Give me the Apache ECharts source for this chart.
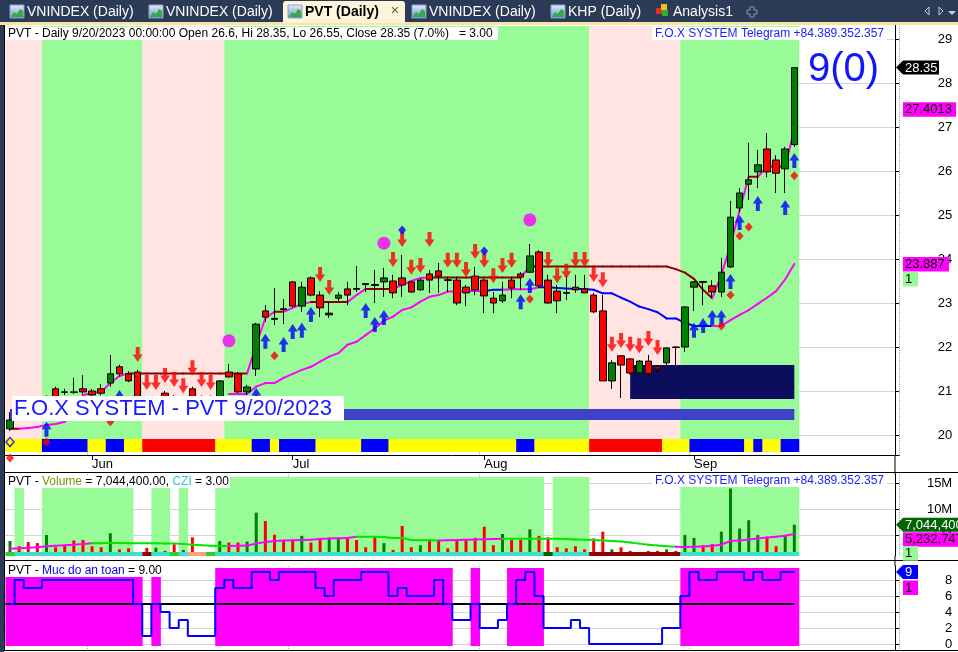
<!DOCTYPE html>
<html>
<head>
<meta charset="utf-8">
<title>PVT (Daily)</title>
<script src="https://cdn.jsdelivr.net/npm/echarts@6.0.0/dist/echarts.min.js"></script>
<style>
html,body{margin:0;padding:0;background:#fff;overflow:hidden}
#chart{width:958px;height:652px}
</style>
</head>
<body>
<div id="chart"></div>
<script>
// ---------------- DATA ----------------
const dates = [
 '5/19/2023','5/22/2023','5/23/2023','5/24/2023','5/25/2023','5/26/2023','5/29/2023','5/30/2023','5/31/2023',
 '6/1/2023','6/2/2023','6/5/2023','6/6/2023','6/7/2023','6/8/2023','6/9/2023','6/12/2023','6/13/2023','6/14/2023','6/15/2023',
 '6/16/2023','6/19/2023','6/20/2023','6/21/2023','6/22/2023','6/23/2023','6/26/2023','6/27/2023','6/28/2023','6/29/2023','6/30/2023',
 '7/3/2023','7/4/2023','7/5/2023','7/6/2023','7/7/2023','7/10/2023','7/11/2023','7/12/2023','7/13/2023','7/14/2023',
 '7/17/2023','7/18/2023','7/19/2023','7/20/2023','7/21/2023','7/24/2023','7/25/2023','7/26/2023','7/27/2023','7/28/2023','7/31/2023',
 '8/1/2023','8/2/2023','8/3/2023','8/4/2023','8/7/2023','8/8/2023','8/9/2023','8/10/2023','8/11/2023','8/14/2023',
 '8/15/2023','8/16/2023','8/17/2023','8/18/2023','8/21/2023','8/22/2023','8/23/2023','8/24/2023','8/25/2023','8/28/2023',
 '8/29/2023','8/30/2023','8/31/2023',
 '9/5/2023','9/6/2023','9/7/2023','9/8/2023','9/11/2023','9/12/2023','9/13/2023','9/14/2023','9/15/2023','9/18/2023','9/19/2023','9/20/2023'
];
const open = [
 20.14,20.60,20.50,20.55,20.50,21.05,20.98,20.98,21.05,21.00,
 21.05,21.18,21.55,21.39,21.43,20.75,20.60,20.95,20.80,20.62,
 21.05,20.80,20.85,20.80,21.43,21.39,20.98,21.50,22.82,22.65,
 22.87,23.48,22.93,23.57,23.18,22.73,23.11,23.32,23.33,23.44,
 23.42,23.48,23.50,23.57,23.48,23.30,23.66,23.73,23.53,23.52,
 23.36,23.61,23.52,23.11,23.05,23.52,23.66,23.70,24.16,23.52,
 23.27,23.24,23.36,23.32,23.18,22.82,21.23,21.80,21.73,21.41,
 21.68,21.55,21.64,22.00,22.00,23.36,23.49,23.39,23.25,23.82,
 25.16,25.70,25.98,26.50,26.25,26.05,26.60];
const high = [
 20.52,20.75,20.65,20.70,20.90,21.10,21.05,21.30,21.36,21.05,
 21.16,21.82,21.60,21.45,21.48,20.85,20.85,21.00,20.90,20.85,
 21.10,20.90,20.90,21.25,21.61,21.43,21.14,22.55,22.95,23.34,
 23.09,23.50,23.48,23.60,23.27,23.02,23.25,23.48,23.84,23.45,
 23.75,23.80,23.64,24.09,23.50,23.55,23.75,23.91,23.59,23.59,
 23.41,23.82,23.55,23.25,23.48,23.59,23.70,24.34,24.20,23.64,
 23.41,23.64,23.64,23.64,23.23,23.18,21.70,21.80,21.75,21.70,
 21.82,21.59,22.00,22.02,22.93,23.50,23.50,23.52,24.02,25.32,
 25.61,26.64,26.48,26.86,26.36,26.55,28.35];
const low = [
 20.09,20.35,20.40,20.45,20.45,20.80,20.91,20.93,20.93,20.86,
 20.90,21.10,21.33,21.20,20.60,20.55,20.55,20.65,20.60,20.55,
 20.75,20.70,20.60,20.70,21.30,20.95,20.91,21.34,22.57,22.50,
 22.52,22.90,22.80,23.15,22.68,22.66,23.05,22.95,23.25,23.25,
 23.00,23.14,23.11,23.14,23.23,23.28,23.23,23.23,23.25,22.95,
 22.93,23.18,22.77,22.77,23.00,23.11,23.30,23.68,23.35,22.98,
 22.77,23.07,23.23,23.23,22.77,21.23,21.05,20.84,21.38,21.38,
 21.32,21.41,21.55,21.59,21.89,22.82,22.95,23.11,23.14,23.80,
 25.07,25.34,25.61,25.86,25.50,25.50,26.55];
const close = [
 20.34,20.40,20.45,20.50,20.85,20.86,20.97,20.97,20.98,20.91,
 20.95,21.39,21.39,21.23,20.68,20.60,20.75,20.70,20.65,20.72,
 20.86,20.78,20.70,21.23,21.32,20.98,21.09,22.52,22.68,22.63,
 22.85,22.93,23.36,23.18,22.89,22.77,23.18,23.18,23.31,23.42,
 23.40,23.57,23.23,23.41,23.25,23.52,23.52,23.61,23.51,23.00,
 23.23,23.30,23.16,23.00,23.18,23.34,23.59,24.07,23.39,23.00,
 23.05,23.22,23.30,23.23,22.80,21.23,21.64,21.59,21.41,21.68,
 21.39,21.50,21.98,21.99,22.91,23.48,23.47,23.25,23.70,24.95,
 25.50,25.80,26.14,25.98,25.95,26.50,28.35];

// upper trailing line (magenta when rising, maroon otherwise)
const stopUp = [
 20.14,20.14,20.16,20.18,20.23,20.25,20.30,20.57,20.91,20.95,
 20.98,21.18,21.34,21.40,21.40,21.40,21.40,21.40,21.40,21.40,
 21.40,21.40,21.40,21.40,21.40,21.40,21.40,22.05,22.66,22.80,
 22.80,22.89,22.98,23.02,23.02,23.02,23.02,23.02,23.18,23.32,
 23.32,23.32,23.32,23.41,23.50,23.57,23.58,23.58,23.58,23.58,
 23.58,23.58,23.58,23.58,23.58,23.58,23.58,23.83,23.83,23.83,
 23.83,23.83,23.83,23.83,23.83,23.83,23.83,23.83,23.83,23.83,
 23.83,23.83,23.83,23.77,23.69,23.55,23.30,23.11,23.64,24.32,
 25.11,25.87,25.87,26.10,26.10,26.10,26.95];
// lower trailing line
const stopLow = [
 null,null,null,null,null,null,null,null,null,null,
 null,null,null,null,null,null,null,null,null,null,
 null,null,null,null,20.93,20.93,20.93,21.10,21.18,21.18,
 21.30,21.39,21.48,21.55,21.67,21.78,21.86,22.05,22.12,22.27,
 22.42,22.60,22.69,22.84,22.90,23.03,23.14,23.18,23.26,23.26,
 23.27,23.27,23.27,23.30,23.30,23.31,23.31,23.31,23.36,23.36,
 23.34,23.33,23.32,23.32,23.30,23.22,23.22,23.12,23.03,22.92,
 22.86,22.79,22.65,22.65,22.55,22.48,22.48,22.48,22.48,22.61,
 22.73,22.84,22.98,23.12,23.27,23.54,23.887];
const stopLowColorSegs = [[0,52,'M'],[53,54,'B'],[55,58,'M'],[59,77,'B'],[78,86,'M']];
const upperBandLast = 27.4013;

// background trend zones and bottom strip
const trendSegs = [[0,3,-1],[4,14,1],[15,23,-1],[24,63,1],[64,73,-1],[74,86,1]];
const stripSegs = [[0,3,'Y'],[4,8,'B'],[9,10,'Y'],[11,12,'B'],[13,14,'Y'],[15,22,'R'],[23,26,'Y'],[27,28,'B'],
 [29,29,'Y'],[30,33,'B'],[34,38,'Y'],[39,41,'B'],[42,55,'Y'],[56,57,'B'],[58,63,'Y'],[64,71,'R'],[72,74,'Y'],
 [75,80,'B'],[81,81,'Y'],[82,82,'B'],[83,84,'Y'],[85,86,'B']];
const zoneBox = [[68, 86, 21.59, 20.82]];      // navy box [fromBar, toBar, top, bottom]
const foxBar  = [[0, 86, 20.59, 20.34]];       // slate band under the caption

// signal markers [bar, price]
const sellArrows = [[14,21.66],[15,21.02],[16,21.02],[17,21.18],[18,21.09],[19,20.95],[20,21.36],[21,21.09],[22,21.02],
 [34,23.48],[35,23.18],[42,23.82],[43,24.27],[44,23.64],[45,23.68],[46,24.27],[48,23.80],[49,23.80],[50,23.59],
 [51,24.00],[52,23.80],[53,23.45],[54,23.68],[55,23.80],[59,23.82],[60,23.45],[61,23.55],[62,23.82],[63,23.82],
 [64,23.48],[65,23.36],[66,21.89],[67,21.98],[68,21.89],[69,21.86],[70,22.02],[71,21.82]];
const buyArrows = [[4,20.30],[12,21.02],[27,21.07],[28,22.30],[30,22.23],[31,22.52],[32,22.55],[33,22.91],
 [39,23.00],[40,22.68],[41,22.84],[56,23.20],[57,23.57],[75,22.55],[76,22.66],[77,22.84],[78,22.84],[79,23.66],
 [80,25.00],[82,25.43],[85,25.34],[86,26.41]];
const redDiamonds = [[11,20.30],[29,21.80],[57,23.09],[78,22.48],[79,23.18],[80,24.52],[81,24.73],[86,25.89]];
const blueDiamonds = [[43,24.66],[52,24.18]];
const pinkDots = [[24,22.14],[41,24.36],[57,24.89]];
const stripMarks = [[0,19.84,'hollow'],[4,19.84,'red'],[0,19.48,'red']];

// volume pane (millions)
const volumeM = [
 3.90,2.90,3.70,3.50,5.05,2.70,3.10,4.00,4.10,2.90,
 2.70,5.40,2.30,2.50,1.40,2.60,2.60,2.00,3.30,2.20,
 4.60,1.20,1.65,3.90,3.60,3.60,3.80,9.35,7.75,5.10,
 4.10,4.10,4.90,3.60,4.50,4.50,4.50,4.40,4.10,2.70,
 4.70,3.50,2.20,6.80,2.70,3.10,3.90,3.90,2.50,4.10,
 4.10,4.50,6.65,3.10,5.25,4.10,4.20,6.15,4.90,4.60,
 2.70,2.50,2.90,2.30,4.40,5.70,2.30,2.70,2.00,1.80,
 2.00,2.00,2.30,2.00,5.05,4.50,3.10,3.30,5.70,14.00,
 6.30,7.90,5.05,4.60,2.90,5.05,7.0444];
const volMaM = [
 2.40,2.50,2.60,2.70,2.90,3.00,3.10,3.20,3.35,3.45,
 3.45,3.50,3.50,3.45,3.45,3.45,3.45,3.40,3.40,3.35,
 3.20,3.10,3.00,2.95,2.95,3.00,3.05,3.40,3.70,3.90,
 4.00,4.05,4.10,4.15,4.30,4.40,4.45,4.50,4.70,4.70,
 4.70,4.65,4.50,4.50,4.10,4.05,4.05,4.00,4.05,4.10,
 4.15,4.20,4.25,4.30,4.35,4.35,4.35,4.35,4.35,4.35,
 4.35,4.30,4.20,4.15,4.10,4.00,3.90,3.80,3.60,3.40,
 3.20,3.05,2.90,2.80,2.75,2.80,2.85,3.00,3.20,3.90,
 4.00,4.20,4.40,4.60,4.70,4.90,5.232747];
const volMaColorSegs = [[0,9,'M'],[10,24,'G'],[25,38,'M'],[39,47,'G'],[48,54,'M'],[55,73,'G'],[74,86,'M']];
const volBandSegs = [[1,1],[4,13],[16,17],[19,19],[23,58],[60,63],[74,86]];
const cziSegs = [[0,0,'G'],[1,14,'C'],[15,15,'DR'],[16,17,'C'],[18,18,'G'],[19,19,'C'],[20,21,'O'],[22,22,'G'],
 [23,58,'C'],[59,59,'DG'],[60,63,'C'],[64,73,'DR'],[74,86,'C']];
const cziValue = 3.00;

// safety level pane ("Muc do an toan")
const safety = [
 5,8,7,7,8,8,8,8,8,8,
 8,8,8,8,5,1,5,4,2,3,
 1,1,1,7,8,7,7,9,9,8,
 9,9,9,9,7,6,8,8,8,9,
 9,9,6,7,6,6,6,8,5,3,
 3,5,2,2,3,5,8,9,6,2,
 2,2,3,2,0,0,0,0,0,0,
 0,0,2,2,6,9,8,8,9,9,
 9,8,9,8,8,9,9];
const safeThreshold = 5;
const signalCount = '9(0)';

// ---------------- STYLE ----------------
const FONT = '"Liberation Sans", Arial, Helvetica, sans-serif';
const COL = {
  up:'#008000', down:'#ff0000', bgGreen:'#98fb98', bgPink:'#ffe4e1',
  Y:'#ffff00', B:'#0000ff', R:'#ff0000', magenta:'#ff00ff', maroon:'#8b0000', blue:'#0000ff',
  navy:'#0d0d5e', slate:'#4040c8', fox:'#1a1aff', grid:'#a8a8a8',
  czi:{C:'#40e0d0', G:'#33cc33', DR:'#8b0000', O:'#ffa07a', DG:'#006400'}, volMa:{M:'#ff00ff', G:'#00e600'}
};
const N = dates.length;
const PAD = 11;
const cats = dates.concat(Array.from({length: PAD}, (_, k) => 'pad' + k));
const monthNames = ['Jan','Feb','Mar','Apr','May','Jun','Jul','Aug','Sep','Oct','Nov','Dec'];
const monthOf = d => +d.split('/')[0];
const monthStart = new Set();
dates.forEach((d, i) => { if (i > 0 && monthOf(d) !== monthOf(dates[i - 1])) monthStart.add(i); });
const isMonthStart = i => monthStart.has(i);

// runs of bars whose safety level is at or above the threshold (drawn as magenta zones)
const safeRuns = [];
safety.forEach((v, i) => {
  if (v >= safeThreshold) {
    const lastRun = safeRuns[safeRuns.length - 1];
    if (lastRun && lastRun[1] === i - 1) lastRun[1] = i; else safeRuns.push([i, i]);
  }
});

const GRID_LEFT = 5.44, GRID_W = 893.76;
const grids = [
  {left: GRID_LEFT, top: 24, width: GRID_W, height: 431, outerBoundsMode: 'none'},
  {left: GRID_LEFT, top: 474, width: GRID_W, height: 82, outerBoundsMode: 'none'},
  {left: GRID_LEFT, top: 566, width: GRID_W, height: 84, outerBoundsMode: 'none'}
];

function xAxisFor(gi) {
  return {
    type: 'category', gridIndex: gi, data: cats, boundaryGap: true,
    axisLine: {show: gi === 0, lineStyle: {color: '#000', width: 1}},
    axisTick: {show: gi === 0, alignWithLabel: true, interval: isMonthStart, length: 5, lineStyle: {color: '#000'}},
    axisLabel: {show: gi === 0, interval: isMonthStart, align: 'left', margin: 3, fontSize: 13, color: '#000', fontFamily: FONT,
      formatter: (v, i) => isMonthStart(i) ? monthNames[monthOf(v) - 1] : ''},
    splitLine: {show: true, interval: isMonthStart, lineStyle: {type: 'dotted', color: COL.grid}}
  };
}
function yAxisFor(gi, min, max, split, fmt) {
  return {
    type: 'value', gridIndex: gi, position: 'right', offset: -4, min, max, splitNumber: split, scale: true,
    axisLine: {show: true, lineStyle: {color: '#000', width: 1}},
    axisTick: {show: true, inside: false, length: 4, lineStyle: {color: '#000'}},
    axisLabel: {show: true, align: 'right', margin: 57, fontSize: 13, color: '#000', fontFamily: FONT,
      showMinLabel: false, showMaxLabel: false, formatter: fmt},
    splitLine: {show: true, showMinLine: false, showMaxLine: false, lineStyle: {type: 'dotted', color: COL.grid}}
  };
}

// ---- render helpers ----
function segRectSeries(name, gi, segs, colorOf, yTop, yBot, z) {
  return {
    type: 'custom', name, xAxisIndex: gi, yAxisIndex: gi, z, silent: true, animation: false,
    data: segs.map(s => [s[0], s[1]]),
    renderItem: (params, api) => {
      const seg = segs[params.dataIndex];
      const fill = colorOf(seg);
      if (!fill) return null;
      const cs = params.coordSys;
      const w = api.size([1, 0])[0];
      const x0 = api.coord([seg[0], 0])[0] - w / 2;
      const x1 = api.coord([seg[1], 0])[0] + w / 2;
      const y0 = cs.y + yTop(cs), y1 = cs.y + yBot(cs);
      return {type: 'rect', shape: {x: x0, y: y0, width: x1 - x0 + 0.4, height: y1 - y0}, style: {fill}};
    }
  };
}
function boxSeries(name, gi, boxes, fill, z) {
  return {
    type: 'custom', name, xAxisIndex: gi, yAxisIndex: gi, z, silent: true,
    data: boxes.map(b => b.slice()),
    renderItem: (params, api) => {
      const p0 = api.coord([api.value(0), api.value(2)]);
      const p1 = api.coord([api.value(1), api.value(3)]);
      return {type: 'rect', shape: {x: p0[0], y: p0[1], width: p1[0] - p0[0], height: p1[1] - p0[1]}, style: {fill}};
    }
  };
}
function colorLineSeries(name, gi, values, colorAt, z) {
  const segs = [];
  for (let i = 1; i < values.length; i++) {
    if (values[i] == null || values[i - 1] == null) continue;
    segs.push([i, values[i - 1], values[i]]);
  }
  return {
    type: 'custom', name, xAxisIndex: gi, yAxisIndex: gi, z, silent: true,
    data: segs,
    renderItem: (params, api) => {
      const s = segs[params.dataIndex];
      const a = api.coord([s[0] - 1, s[1]]);
      const b = api.coord([s[0], s[2]]);
      return {type: 'line', shape: {x1: a[0], y1: a[1], x2: b[0], y2: b[1]},
        style: {stroke: colorAt(s[0]), lineWidth: 2, lineCap: 'round'}};
    }
  };
}
function segLookup(segs, i) { for (const s of segs) if (i >= s[0] && i <= s[1]) return s[2]; return null; }

const DOWN_ARROW = 'path://M3,0L7,0L7,7L10,7L5,14L0,7L3,7Z';
const UP_ARROW = 'path://M5,0L10,7L7,7L7,14L3,14L3,7L0,7Z';

const series = [
  // ---------- price pane ----------
  segRectSeries('zones', 0, trendSegs, s => s[2] > 0 ? COL.bgGreen : COL.bgPink, cs => 2, cs => cs.height - 16, 1),
  segRectSeries('strip', 0, stripSegs, s => COL[s[2]], cs => cs.height - 16, cs => cs.height - 3, 2),
  boxSeries('foxBar', 0, foxBar, COL.slate, 2),
  boxSeries('zone', 0, zoneBox, COL.navy, 3),
  colorLineSeries('stopUp', 0, stopUp, i => stopUp[i] > stopUp[i - 1] ? COL.magenta : COL.maroon, 4),
  colorLineSeries('stopLow', 0, stopLow, i => segLookup(stopLowColorSegs, i) === 'B' ? COL.blue : COL.magenta, 4),
  {
    type: 'candlestick', name: 'PVT', xAxisIndex: 0, yAxisIndex: 0, z: 5, barWidth: 7,
    data: open.map((o, i) => [o, close[i], low[i], high[i]]),
    itemStyle: {color: COL.up, color0: COL.down, borderColor: '#000', borderColor0: '#000', borderWidth: 1}
  },
  {type: 'scatter', name: 'sell', xAxisIndex: 0, yAxisIndex: 0, z: 6, symbol: DOWN_ARROW, symbolSize: [10, 15],
    symbolOffset: [0, -7.5], itemStyle: {color: '#ff0000'}, data: sellArrows},
  {type: 'scatter', name: 'buy', xAxisIndex: 0, yAxisIndex: 0, z: 6, symbol: UP_ARROW, symbolSize: [10, 15],
    symbolOffset: [0, 7.5], itemStyle: {color: '#0000ff'}, data: buyArrows},
  {type: 'scatter', name: 'redDiamond', xAxisIndex: 0, yAxisIndex: 0, z: 6, symbol: 'diamond', symbolSize: [8, 9],
    itemStyle: {color: '#ff0000'}, data: redDiamonds},
  {type: 'scatter', name: 'blueDiamond', xAxisIndex: 0, yAxisIndex: 0, z: 6, symbol: 'diamond', symbolSize: [8, 9],
    itemStyle: {color: '#0000ff'}, data: blueDiamonds},
  {type: 'scatter', name: 'dots', xAxisIndex: 0, yAxisIndex: 0, z: 6, symbol: 'circle', symbolSize: 13,
    itemStyle: {color: '#ff00ff'}, data: pinkDots},
  {type: 'scatter', name: 'stripMarks', xAxisIndex: 0, yAxisIndex: 0, z: 7, clip: false, symbol: 'diamond', symbolSize: [8, 9],
    data: stripMarks.map(m => ({value: [m[0], m[1]], itemStyle: m[2] === 'hollow'
      ? {color: '#ffff00', borderColor: '#0000ff', borderWidth: 1.5} : {color: '#ff0000'}}))},

  // ---------- volume pane ----------
  segRectSeries('volZones', 1, volBandSegs, () => COL.bgGreen, cs => 3, cs => cs.height, 1),
  {
    type: 'bar', name: 'Volume', xAxisIndex: 1, yAxisIndex: 1, z: 3, barWidth: 3,
    data: volumeM.map((v, i) => ({value: v, itemStyle: {color: close[i] >= open[i] ? COL.up : COL.down}}))
  },
  colorLineSeries('volMA', 1, volMaM, i => COL.volMa[segLookup(volMaColorSegs, i)], 4),
  segRectSeries('czi', 1, cziSegs, s => COL.czi[s[2]], cs => cs.height - 4, cs => cs.height, 5),

  // ---------- safety pane ----------
  segRectSeries('safeZones', 2, safeRuns, () => COL.magenta, cs => 2, cs => cs.height - 4, 1),
  {
    type: 'custom', name: 'threshold', xAxisIndex: 2, yAxisIndex: 2, z: 2, silent: true,
    data: [[0, N - 1, safeThreshold]],
    renderItem: (params, api) => {
      const w = api.size([1, 0])[0];
      const a = api.coord([api.value(0), api.value(2)]);
      const b = api.coord([api.value(1), api.value(2)]);
      return {type: 'line', shape: {x1: a[0] - w / 2, y1: a[1], x2: b[0], y2: b[1]}, style: {stroke: '#000', lineWidth: 2}};
    }
  },
  {
    type: 'line', name: 'Muc do an toan', xAxisIndex: 2, yAxisIndex: 2, z: 3, step: 'middle', symbol: 'none',
    lineStyle: {color: COL.blue, width: 2}, data: safety
  }
];

const option = {
  animation: false,
  backgroundColor: '#ffffff',
  grid: grids,
  xAxis: [xAxisFor(0), xAxisFor(1), xAxisFor(2)],
  yAxis: [
    yAxisFor(0, 19.5455, 29.3409, 10, v => String(v)),
    yAxisFor(1, 1.019, 16.788, 3, v => v + 'M'),
    yAxisFor(2, -0.75, 9.75, 5, v => String(v))
  ],
  series
};

const chart = echarts.init(document.getElementById('chart'), null, {renderer: 'canvas', width: 958, height: 652});
chart.setOption(option);

// ---------------- GRAPHIC (frame, tabs, captions, value labels) ----------------
const yPx = (axis, v) => chart.convertToPixel({yAxisIndex: axis}, v);
const G = [];
const txt = (text, x, y, font, fill, align, extra) =>
  Object.assign({type: 'text', z: 120, silent: true, style: Object.assign({text, x, y, font, fill, align: align || 'left', verticalAlign: 'middle'}, extra || {})});
const rect = (x, y, w, h, fill, z, extra) => ({type: 'rect', z: z || 110, silent: true, shape: Object.assign({x, y, width: w, height: h}, extra || {}), style: {fill}});
const line = (x1, y1, x2, y2, stroke, w) => ({type: 'line', z: 115, silent: true, shape: {x1, y1, x2, y2}, style: {stroke, lineWidth: w || 1}});

// tab bar
G.push(rect(0, 0, 958, 22, '#2a3a57', 100));
G.push(rect(0, 22, 958, 3, '#f8e5a4', 101));
G.push(rect(0, 25, 4, 627, '#2a3a57', 101));
G.push(line(4.5, 25, 4.5, 651, '#000', 1));
const TAB_FONT = '14px ' + FONT;
const tabs = [
  {text: 'VNINDEX (Daily)', x: 8}, {text: 'VNINDEX (Daily)', x: 147}, {text: 'PVT (Daily)', x: 286, active: true},
  {text: 'VNINDEX (Daily)', x: 410}, {text: 'KHP (Daily)', x: 549}, {text: 'Analysis1', x: 653, kind: 'analysis'}
];
tabs.forEach(t => {
  if (t.active) G.push(rect(t.x - 3, 1, 122, 22, '#fdf5da', 102, {r: [3, 3, 0, 0]}));
  if (t.kind === 'analysis') {
    G.push(rect(t.x + 3, 8, 6, 6, '#e03030', 105));
    G.push(rect(t.x + 8, 4, 6, 6, '#f0c020', 105));
    G.push(rect(t.x + 9, 10, 6, 6, '#30b030', 105));
  } else {
    G.push({type: 'rect', z: 105, silent: true, shape: {x: t.x + 2, y: 5, width: 14, height: 13},
      style: {fill: new echarts.graphic.LinearGradient(0, 0, 0, 1, [{offset: 0, color: '#e6f0fb'}, {offset: 1, color: '#5d90d0'}]), stroke: '#8aa0c0', lineWidth: 1}});
    G.push({type: 'polygon', z: 106, silent: true, shape: {points: [[t.x + 3, 17], [t.x + 6, 12], [t.x + 9, 14], [t.x + 12, 9], [t.x + 15, 11], [t.x + 15, 17]]}, style: {fill: '#3aa845'}});
  }
  G.push(txt(t.text, t.x + (t.kind === 'analysis' ? 20 : 19), 12, (t.active ? 'bold ' : '') + TAB_FONT, t.active ? '#000' : '#ffffff'));
  if (t.active) G.push(txt('\u00d7', 395, 11, '15px ' + FONT, '#606060', 'center'));
});
G.push({type: 'polygon', z: 105, silent: true, shape: {points: [[750, 7], [754, 7], [754, 10], [757, 10], [757, 14], [754, 14], [754, 17], [750, 17], [750, 14], [747, 14], [747, 10], [750, 10]]}, style: {fill: 'none', stroke: '#8898b0', lineWidth: 1}});
G.push({type: 'polygon', z: 105, silent: true, shape: {points: [[925, 11], [929, 7], [929, 15]]}, style: {fill: 'none', stroke: '#c8d0dc', lineWidth: 1}});
G.push({type: 'polygon', z: 105, silent: true, shape: {points: [[943, 11], [939, 7], [939, 15]]}, style: {fill: 'none', stroke: '#c8d0dc', lineWidth: 1}});
G.push({type: 'polygon', z: 105, silent: true, shape: {points: [[948, 11], [956, 11], [952, 15]]}, style: {fill: '#c8d0dc'}});

// pane borders
G.push(line(4, 472.5, 958, 472.5, '#000', 1));
G.push(line(4, 560.5, 958, 560.5, '#000', 1));
G.push(line(4, 650.5, 958, 650.5, '#000', 1));
G.push(line(895, 455, 895, 474, '#000', 1));
G.push(line(895, 556, 895, 566, '#000', 1));

// captions
const CAP_FONT = '12px ' + FONT;
const last = N - 1;
const pct = ((close[last] / close[last - 1] - 1) * 100).toFixed(1);
G.push(rect(5, 27, 493, 13, '#ffffff', 110));
G.push(txt('PVT - Daily ' + dates[last] + ' 00:00:00 Open ' + open[last] + ', Hi ' + high[last] + ', Lo ' + low[last] +
  ', Close ' + close[last] + ' (' + pct + '%)   = ' + cziValue.toFixed(2), 8, 33.5, CAP_FONT, '#000'));
G.push(rect(652, 27, 235, 13, '#ffffff', 110));
G.push(txt('F.O.X SYSTEM Telegram +84.389.352.357', 884, 33.5, CAP_FONT, '#2020ff', 'right'));
G.push(txt(signalCount, 808, 70, '40px ' + FONT, '#1414ff'));
G.push(rect(12, 396, 332, 25, '#ffffff', 110));
G.push(txt('F.O.X SYSTEM - PVT ' + dates[last], 14, 409, '22px ' + FONT, COL.fox));

G.push(rect(5, 476, 225, 12, '#ffffff', 110));
G.push({type: 'text', z: 120, silent: true, style: {
  text: '{k|PVT - }{v|Volume}{k| = ' + (volumeM[last] * 1e6).toLocaleString('en-US', {minimumFractionDigits: 2}) + ', }{c|CZI}{k| = ' + cziValue.toFixed(2) + '}',
  x: 8, y: 482, verticalAlign: 'middle', font: CAP_FONT,
  rich: {k: {fill: '#000', font: CAP_FONT}, v: {fill: '#6b9a00', font: CAP_FONT}, c: {fill: '#33cccc', font: CAP_FONT}}}});
G.push(rect(652, 475, 235, 12, '#ffffff', 110));
G.push(txt('F.O.X SYSTEM Telegram +84.389.352.357', 884, 481, CAP_FONT, '#2020ff', 'right'));

G.push(rect(5, 564, 156, 13, '#ffffff', 110));
G.push({type: 'text', z: 120, silent: true, style: {
  text: '{k|PVT - }{v|Muc do an toan}{k| = ' + safety[last].toFixed(2) + '}',
  x: 8, y: 571, verticalAlign: 'middle', font: CAP_FONT,
  rich: {k: {fill: '#000', font: CAP_FONT}, v: {fill: '#0000ff', font: CAP_FONT}}}});

// right-hand value labels
const LBL_FONT = '13px ' + FONT;
function arrowLabel(text, yc, bg, fg, w) {
  G.push({type: 'polygon', z: 125, silent: true, shape: {points: [[896, yc], [903, yc - 7], [903 + w, yc - 7], [903 + w, yc + 7], [903, yc + 7]]}, style: {fill: bg}});
  G.push(Object.assign(txt(text, 905, yc + 0.5, LBL_FONT, fg), {z: 126}));
}
function boxLabel(text, yc, bg, fg, w) {
  G.push(Object.assign(rect(903, yc - 7, w, 14.5, bg), {z: 125}));
  G.push(Object.assign(txt(text, 905, yc + 0.5, LBL_FONT, fg), {z: 126}));
}
arrowLabel(close[last].toFixed(2), yPx(0, close[last]), '#000000', '#ffffff', 36);
boxLabel(upperBandLast.toFixed(4), yPx(0, upperBandLast), COL.magenta, '#000', 53);
const yLow = yPx(0, stopLow[last]);
boxLabel(stopLow[last].toFixed(3), yLow, COL.magenta, '#000', 46);
boxLabel('1', yLow + 15, COL.bgGreen, '#000', 15);
const yVol = yPx(1, volumeM[last]);
arrowLabel(Math.round(volumeM[last] * 1e6).toLocaleString('en-US'), yVol, '#006400', '#ffffff', 56);
boxLabel(Math.round(volMaM[last] * 1e6).toLocaleString('en-US'), yVol + 14.5, COL.magenta, '#200000', 56);
boxLabel('1', yVol + 28.5, COL.bgGreen, '#000', 15);
const ySafe = yPx(2, safety[last]);
arrowLabel(String(safety[last]), ySafe, '#0000ff', '#ffffff', 15);
boxLabel('1', ySafe + 15.5, COL.magenta, '#000', 15);

chart.setOption({graphic: {elements: G}});
</script>
</body>
</html>
